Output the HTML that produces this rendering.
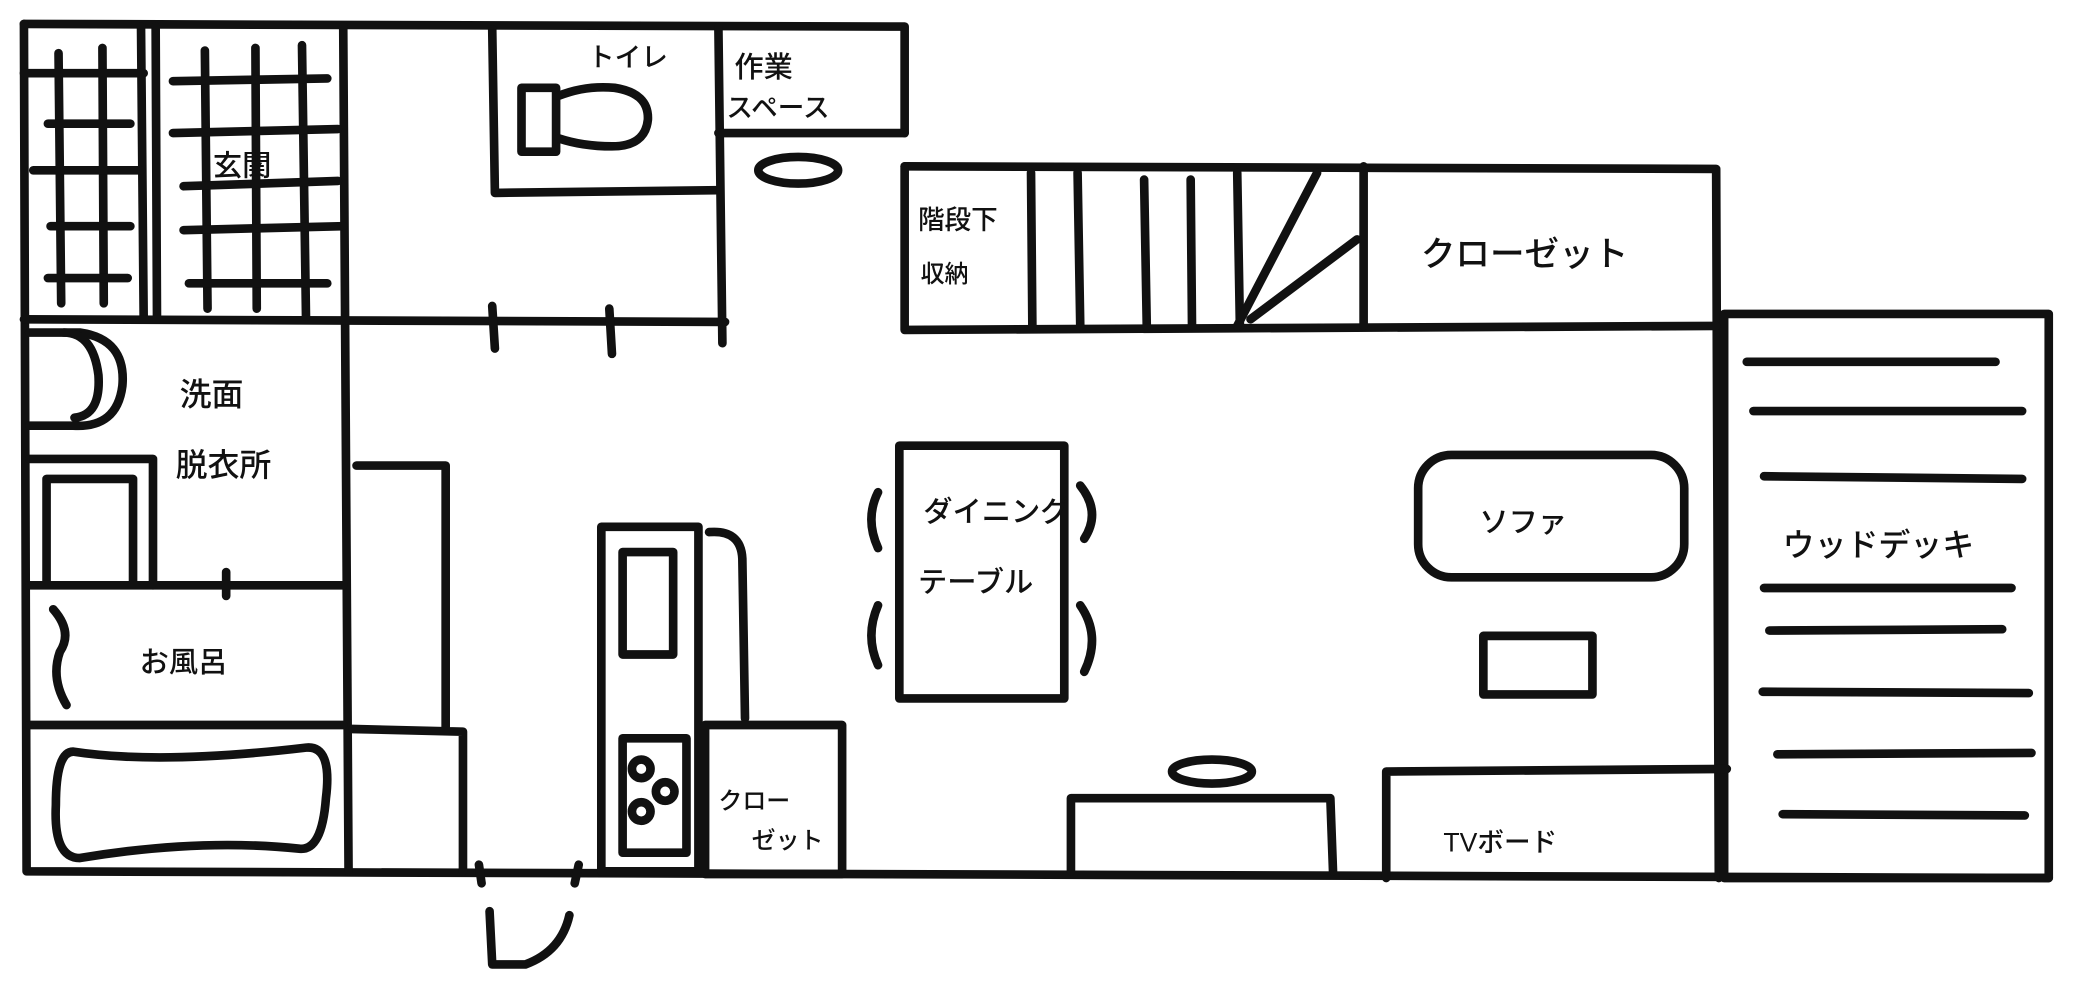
<!DOCTYPE html>
<html><head><meta charset="utf-8"><style>
html,body{margin:0;padding:0;background:#fff;}
svg{display:block;}
text{font-family:"Liberation Sans","Noto Sans CJK JP",sans-serif;fill:#111;font-weight:500;}
</style></head><body>
<svg width="2086" height="992" viewBox="0 0 1568 745.7" preserveAspectRatio="none" xmlns="http://www.w3.org/2000/svg">
<g fill="none" stroke="#111" stroke-width="6.5" stroke-linecap="round" stroke-linejoin="round">
<!-- outer -->
<path d="M18 18 L680 20 L680 100"/>
<path d="M18 18 L20 655 L1540 660"/>
<path d="M680 125 L1290 127 L1292 660"/>
<rect x="1296" y="236" width="244" height="424"/>
<!-- entry -->
<path d="M106 20 L108 240 M117 20 L118 240"/>
<path d="M258 20 L262 655"/>
<path d="M18 240 L545 242"/>
<path d="M370 22 L372 145 L540 143"/>
<path d="M540 20 L543 258"/>
<path d="M540 100 L680 100"/>
<!-- genkan grid -->
<path d="M44 40 L46 228 M77 36 L78 228"/>
<path d="M18 55 L108 55 M36 93 L98 93 M25 128 L106 128 M38 170 L98 170 M36 209 L96 209"/>
<path d="M154 38 L156 232 M192 36 L193 232 M227 34 L230 238"/>
<path d="M130 61 L246 59 M130 100 L254 97 M138 140 L254 136 M138 173 L258 170 M142 213 L246 213"/>
<!-- toilet -->
<rect x="392" y="66" width="26" height="48"/>
<path d="M420 72 Q440 64 462 66 Q488 70 487 90 Q485 110 460 110 Q438 110 420 104"/>
<ellipse cx="600" cy="128" rx="30" ry="10"/>
<path d="M370 230 L372 262 M458 232 L460 266"/>
<!-- stairs -->
<path d="M680 125 L680 248 L1290 245"/>
<path d="M775 130 L776 245 M810 130 L812 245 M860 135 L862 245 M895 135 L896 245 M930 130 L932 245"/>
<path d="M930 245 L990 130 M940 240 L1020 180 M1025 125 L1025 245"/>
<!-- washroom -->
<path d="M22 250 L60 250 Q95 255 92 290 Q88 322 55 320 L22 320"/>
<path d="M48 250 Q70 250 74 282 Q76 312 56 314"/>
<path d="M22 345 L115 345 L115 440 M35 360 L100 360 L100 438 M35 360 L35 438"/>
<path d="M22 440 L258 440 M170 430 L170 448"/>
<path d="M40 458 Q55 475 45 490 Q38 510 50 530"/>
<path d="M22 545 L258 545"/>
<path d="M55 565 Q120 575 230 562 Q250 560 245 600 Q242 640 225 638 Q150 630 60 645 Q40 645 42 605 Q42 565 55 565Z"/>
<!-- hall -->
<path d="M268 350 L335 350 L335 548 M265 548 L348 550 L348 655"/>
<!-- kitchen -->
<rect x="452" y="396" width="73" height="259"/>
<rect x="468" y="415" width="38" height="77"/>
<rect x="468" y="555" width="48" height="86"/>
<circle cx="482" cy="578" r="7"/><circle cx="482" cy="610" r="7"/><circle cx="500" cy="595" r="7"/>
<path d="M533 400 Q557 398 558 420 L560 540"/>
<rect x="530" y="545" width="103" height="112"/>
<!-- dining -->
<rect x="676" y="335" width="124" height="190"/>
<path d="M660 370 Q650 390 660 412 M660 455 Q650 478 660 500 M812 365 Q828 385 815 405 M812 455 Q828 478 815 505"/>
<!-- sofa -->
<rect x="1066" y="342" width="200" height="92" rx="25"/>
<rect x="1115" y="478" width="82" height="44"/>
<!-- tv / counter -->
<path d="M1042 660 L1042 580 L1298 578"/>
<path d="M805 655 L805 600 L1000 600 L1002 655"/>
<ellipse cx="911" cy="580" rx="30" ry="9"/>
<!-- deck -->
<path d="M1313 272 L1500 272 M1318 309 L1520 309 M1326 358 L1520 360 M1326 442 L1512 442 M1330 474 L1505 473 M1325 520 L1525 521 M1336 567 L1527 566 M1340 612 L1522 613"/>
<!-- door -->
<path d="M360 650 L362 664 M435 650 L432 664 M368 685 L370 725 L395 725 Q422 715 428 688"/>
</g>
<g font-size="24">
<text x="442" y="50" font-size="20">トイレ</text>
<text x="552" y="58" font-size="22">作業</text>
<text x="546" y="88" font-size="20">スペース</text>
<text x="160" y="132" font-size="22">玄関</text>
<text x="690" y="172" font-size="20">階段下</text>
<text x="692" y="212" font-size="18">収納</text>
<text x="1068" y="200" font-size="26">クローゼット</text>
<text x="135" y="305">洗面</text>
<text x="132" y="358">脱衣所</text>
<text x="105" y="505" font-size="22">お風呂</text>
<text x="694" y="392" font-size="22">ダイニング</text>
<text x="690" y="445" font-size="22">テーブル</text>
<text x="1112" y="400" font-size="22">ソファ</text>
<text x="1340" y="418" font-size="24">ウッドデッキ</text>
<text x="540" y="608" font-size="18">クロー</text>
<text x="565" y="638" font-size="18">ゼット</text>
<text x="1085" y="640" font-size="20">TVボード</text>
</g>
</svg>
</body></html>
